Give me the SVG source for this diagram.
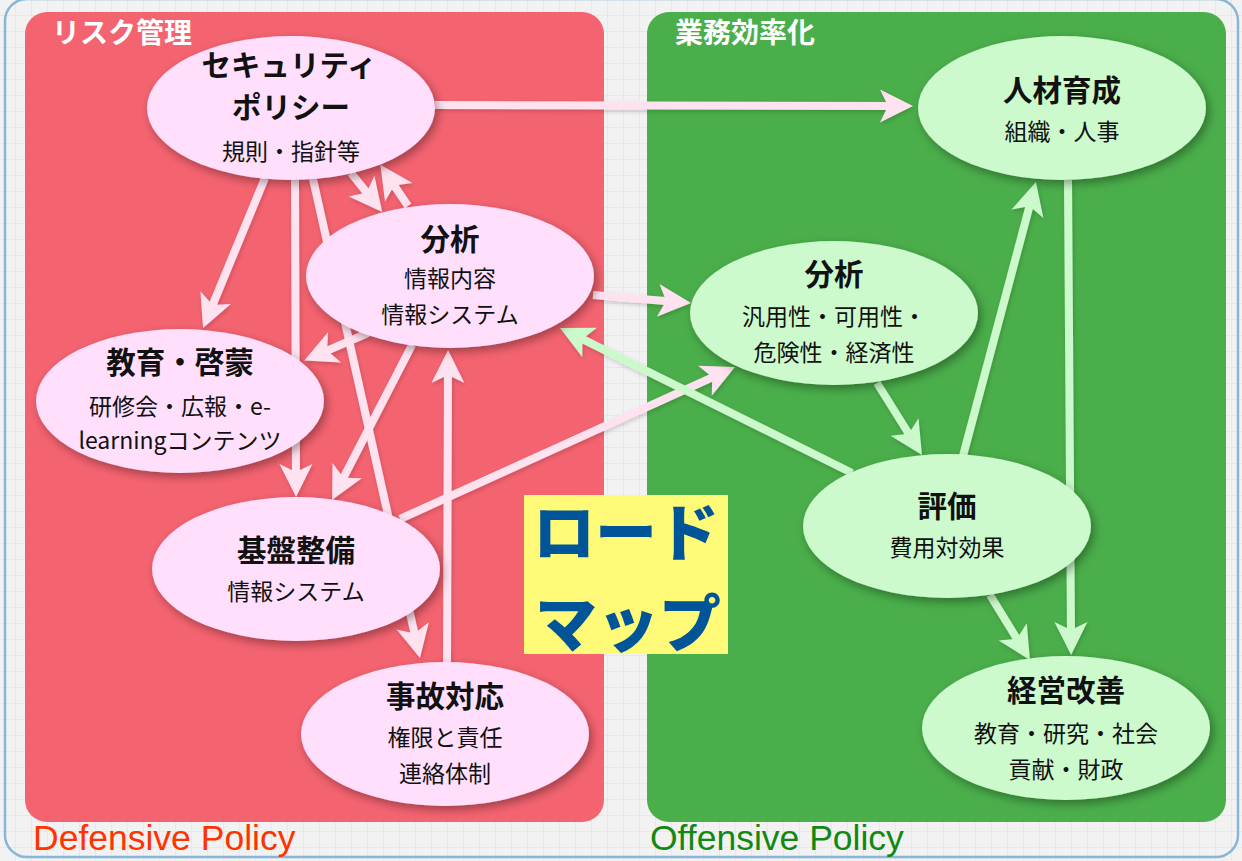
<svg xmlns="http://www.w3.org/2000/svg" width="1242" height="861" viewBox="0 0 1242 861">
<style>
.jp{font-family:"Noto Sans CJK JP","Noto Sans",sans-serif;}
.ttl{font-size:29.5px;font-weight:bold;fill:#111;text-anchor:middle;}
.sub{font-size:23px;fill:#111;text-anchor:middle;}
.pn{fill:#ffdffc;filter:url(#sh);}
.gn{fill:#ccfacc;filter:url(#sh);}
.pa{stroke:#ffe2f0;stroke-width:8;fill:none;marker-end:url(#hp);}
.ga{stroke:#ccf9cc;stroke-width:8;fill:none;marker-end:url(#hg);}
.plabel{font-size:28px;font-weight:bold;fill:#fff;}
.pol{font-family:"Liberation Sans",Arial,sans-serif;font-size:35.5px;}
</style>
<defs>
<pattern id="grid" width="16" height="16" patternUnits="userSpaceOnUse">
<path d="M16 0 V16 M0 16 H16" stroke="#d0e3ee" stroke-width="1" fill="none"/>
</pattern>
<filter id="sh" x="-20%" y="-20%" width="140%" height="150%">
<feDropShadow dx="3" dy="4" stdDeviation="5" flood-color="#000" flood-opacity="0.35"/>
</filter>
<filter id="ash" x="-20%" y="-20%" width="140%" height="140%">
<feDropShadow dx="1" dy="2" stdDeviation="2" flood-color="#000" flood-opacity="0.18"/>
</filter>
<marker id="hp" markerUnits="userSpaceOnUse" markerWidth="60" markerHeight="40" viewBox="0 0 60 40" refX="30" refY="20" orient="auto" overflow="visible">
<path d="M50,20 L17,3.5 L25,20 L17,36.5 Z" fill="#ffe2f0"/>
</marker>
<marker id="hg" markerUnits="userSpaceOnUse" markerWidth="60" markerHeight="40" viewBox="0 0 60 40" refX="30" refY="20" orient="auto" overflow="visible">
<path d="M50,20 L17,3.5 L25,20 L17,36.5 Z" fill="#ccf9cc"/>
</marker>
</defs>

<rect x="0" y="0" width="1242" height="861" fill="#f2f2f2"/>
<rect x="0" y="0" width="1242" height="861" fill="url(#grid)"/>
<rect x="5" y="-1" width="1233" height="858" rx="22" fill="none" stroke="#86b6d8" stroke-width="2.5"/>

<g id="panel-risk">
<rect x="25" y="12" width="579" height="810" rx="22" fill="#f46370"/>
<text class="jp plabel" x="52" y="43">リスク管理</text>
</g>
<g id="panel-efficiency">
<rect x="647" y="12" width="579" height="810" rx="22" fill="#4aae4a"/>
<text class="jp plabel" x="675" y="43">業務効率化</text>
</g>

<g id="connectors" filter="url(#ash)">
<line class="pa" x1="435" y1="105" x2="893" y2="106"/>
<line class="pa" x1="265" y1="178" x2="210.7" y2="309.6"/>
<line class="pa" x1="295" y1="180" x2="296" y2="477"/>
<line class="pa" x1="313" y1="179" x2="415.6" y2="638.5"/>
<line class="pa" x1="351" y1="173" x2="369.7" y2="196.3"/>
<line class="pa" x1="408" y1="206" x2="391.5" y2="181.4"/>
<line class="pa" x1="368" y1="333" x2="322.6" y2="352.6"/>
<line class="pa" x1="412" y1="345" x2="341.2" y2="482.2"/>
<line class="pa" x1="447" y1="662" x2="448" y2="370"/>
<line class="pa" x1="400" y1="519" x2="716.8" y2="375.3"/>
<line class="pa" x1="593" y1="295" x2="671.1" y2="301.4"/>
<line class="ga" x1="852" y1="473" x2="578" y2="336.8"/>
<line class="ga" x1="877" y1="383" x2="911.4" y2="438"/>
<line class="ga" x1="963" y1="456" x2="1030.8" y2="201.3"/>
<line class="ga" x1="1068" y1="180" x2="1071" y2="635"/>
<line class="ga" x1="990" y1="595" x2="1019.5" y2="643"/>
</g>

<g id="node-security-policy">
<ellipse class="pn" cx="291" cy="108" rx="144" ry="72"/>
<text class="jp ttl" x="289" y="76">セキュリティ</text>
<text class="jp ttl" x="291" y="118">ポリシー</text>
<text class="jp sub" x="291" y="160">規則・指針等</text>
</g>
<g id="node-analysis-risk">
<ellipse class="pn" cx="450" cy="276" rx="144" ry="72"/>
<text class="jp ttl" x="450" y="250">分析</text>
<text class="jp sub" x="450" y="287">情報内容</text>
<text class="jp sub" x="450" y="323">情報システム</text>
</g>
<g id="node-education">
<ellipse class="pn" cx="180" cy="401" rx="144" ry="72"/>
<text class="jp ttl" x="180" y="373">教育・啓蒙</text>
<text class="jp sub" x="180" y="415">研修会・広報・e-</text>
<text class="jp sub" x="180" y="449">learningコンテンツ</text>
</g>
<g id="node-infrastructure">
<ellipse class="pn" cx="296" cy="569" rx="144" ry="72"/>
<text class="jp ttl" x="296" y="561">基盤整備</text>
<text class="jp sub" x="296" y="600">情報システム</text>
</g>
<g id="node-incident">
<ellipse class="pn" cx="445" cy="734" rx="144" ry="72"/>
<text class="jp ttl" x="445" y="707">事故対応</text>
<text class="jp sub" x="445" y="746">権限と責任</text>
<text class="jp sub" x="445" y="782">連絡体制</text>
</g>
<g id="node-hr">
<ellipse class="gn" cx="1062" cy="108" rx="144" ry="72"/>
<text class="jp ttl" x="1062" y="101">人材育成</text>
<text class="jp sub" x="1062" y="140">組織・人事</text>
</g>
<g id="node-analysis-eff">
<ellipse class="gn" cx="834" cy="313" rx="144" ry="72"/>
<text class="jp ttl" x="834" y="285">分析</text>
<text class="jp sub" x="834" y="325">汎用性・可用性・</text>
<text class="jp sub" x="834" y="361">危険性・経済性</text>
</g>
<g id="node-evaluation">
<ellipse class="gn" cx="947" cy="526" rx="144" ry="72"/>
<text class="jp ttl" x="947" y="517">評価</text>
<text class="jp sub" x="947" y="556">費用対効果</text>
</g>
<g id="node-management">
<ellipse class="gn" cx="1066" cy="728" rx="144" ry="72"/>
<text class="jp ttl" x="1066" y="701">経営改善</text>
<text class="jp sub" x="1066" y="742">教育・研究・社会</text>
<text class="jp sub" x="1066" y="778">貢献・財政</text>
</g>

<g id="roadmap">
<rect x="524" y="495" width="204" height="159" fill="#fffa78"/>
<text class="jp" x="626" y="556" font-size="62" font-weight="900" fill="#005599" text-anchor="middle">ロード</text>
<text class="jp" x="628" y="647" font-size="62" font-weight="900" fill="#005599" text-anchor="middle">マップ</text>
</g>

<text class="pol" x="33" y="850" fill="#ff3300">Defensive Policy</text>
<text class="pol" x="650" y="850" fill="#118811">Offensive Policy</text>
</svg>
